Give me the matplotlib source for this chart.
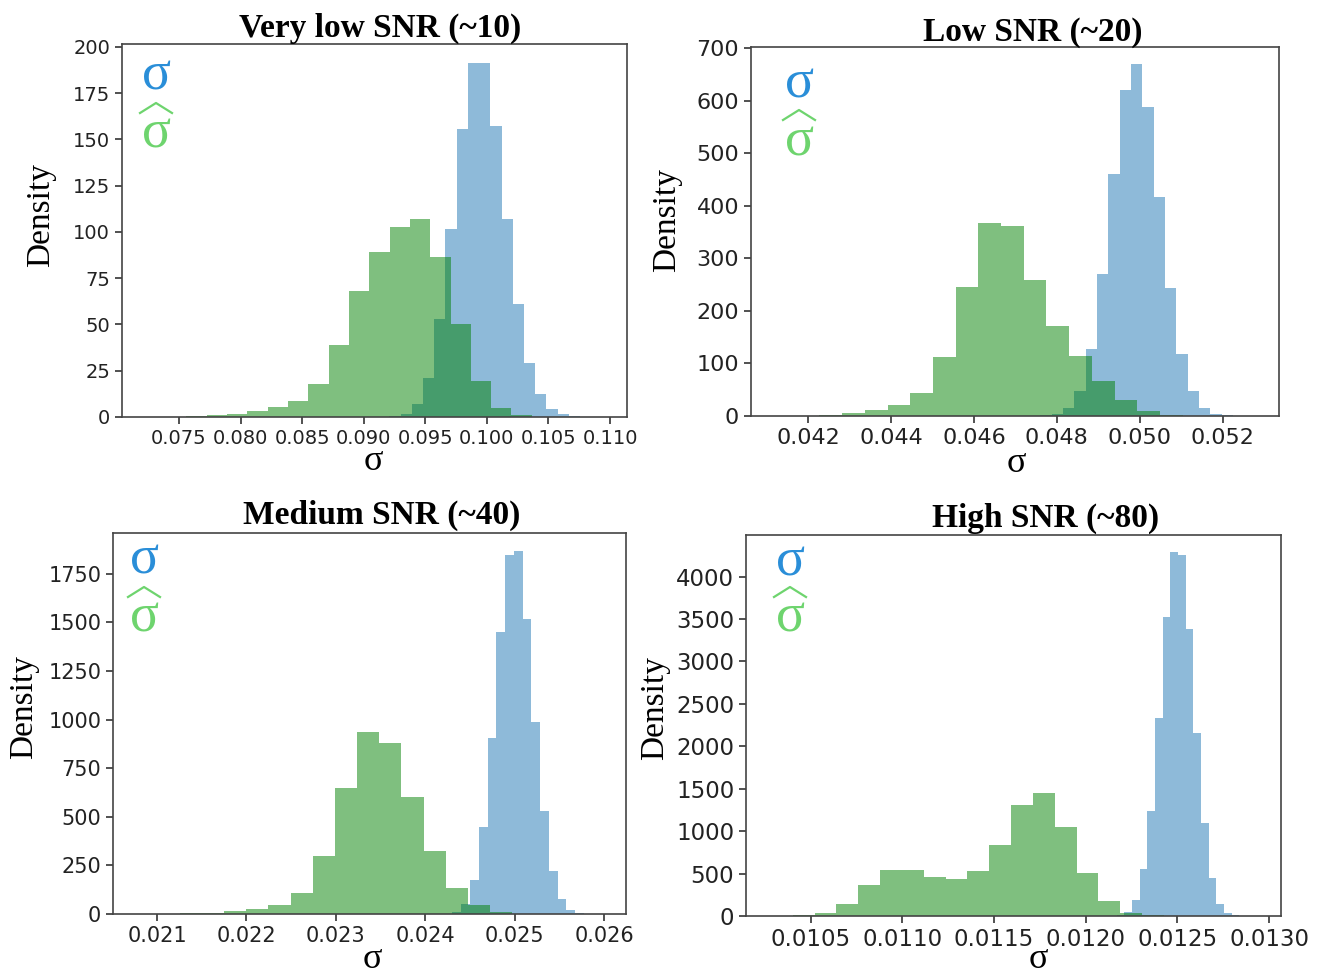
import matplotlib
matplotlib.use('Agg')
import matplotlib.pyplot as plt
from matplotlib.lines import Line2D
from matplotlib.ticker import FormatStrFormatter, MultipleLocator
import numpy as np

W, H = 1323, 977
SERIF = 'Liberation Serif'

titles = ['Very low SNR (~10)', 'Low SNR (~20)', 'Medium SNR (~40)', 'High SNR (~80)']

# true sigma histograms: first bin edge, bin width, densities
sigma_start = [0.09208, 0.047605, 0.024206, 0.012169]
sigma_width = [0.000911, 0.0002732, 0.0000981, 0.0000418]
sigma_vlow = [0.5, 1.8, 7.2, 21.3, 52.7, 101.4, 155.5, 191.5, 191.5, 157, 106.8,
              61, 29.2, 12.6, 4.5, 1.8, 0.5]
sigma_low = [2, 4.5, 15, 47, 127, 270, 461, 621, 669, 588, 416, 243, 118, 48,
             15, 4.5, 2]
sigma_med = [2, 12, 50, 177, 448, 905, 1449, 1848, 1869, 1517, 986, 532, 219,
             79, 22, 5]
sigma_high = [8, 47, 185, 558, 1239, 2336, 3527, 4286, 4255, 3378, 2159, 1101,
              448, 142, 35, 8]

# estimated sigma histograms
hat_start = [0.0756, 0.04227, 0.021254, 0.010402]
hat_width = [0.00165, 0.000548, 0.0002479, 0.0001191]
hat_vlow = [0.5, 0.9, 1.6, 3.2, 5.4, 8.8, 18, 38.8, 68.2, 89.3, 102.8, 106.8,
            86.6, 50, 19.5, 4.9, 1]
hat_low = [2, 5, 12, 21, 44, 113, 245, 367, 362, 259, 171, 114, 67, 30, 9.5, 2]
hat_med = [3, 5, 14, 24, 46, 110, 300, 646, 934, 880, 600, 322, 134, 48, 8, 2]
hat_high = [8, 31, 138, 362, 543, 543, 460, 433, 527, 834, 1313, 1455, 1054,
            507, 177, 35, 8]

sigma_vals = [sigma_vlow, sigma_low, sigma_med, sigma_high]
hat_vals = [hat_vlow, hat_low, hat_med, hat_high]

xlims = [(0.07037, 0.11138), (0.04062, 0.05336), (0.020508, 0.026245), (0.010147, 0.013065)]
ylims = [201.5, 702, 1960, 4491]
xtick_step = [0.005, 0.002, 0.001, 0.0005]
xtick_fmt = ['%.3f', '%.3f', '%.3f', '%.4f']
ytick_step = [25, 100, 250, 500]
tick_size = [14, 16, 15, 16.5]

# panel boxes in pixels: left, top, right, bottom
boxes = [(122, 44, 627, 417), (751, 47, 1279, 416), (113, 533, 626, 914), (746, 535, 1281, 916)]
title_pos = [(380, 37), (1033, 41), (382, 524), (1046, 527)]
ylabel_pos = [(41, 215), (667, 220), (24, 707), (655, 708)]
xlabel_pos = [(373, 470), (1016, 472), (372, 968), (1038, 968)]
legend_pos = [(156, 90, 148), (799, 98, 155), (144, 574, 632), (790, 575, 632)]

SIGMA_BLUE = '#2a8ed8'
SIGMA_GREEN = '#6ed46e'


def fx(px):
    return px / W


def fy(py):
    return 1 - py / H


fig = plt.figure(figsize=(W / 100, H / 100), dpi=100)

for i in range(4):
    l, t, r, b = boxes[i]
    ax = fig.add_axes([fx(l), fy(b), (r - l) / W, (b - t) / H])

    n = len(sigma_vals[i])
    edges = sigma_start[i] + sigma_width[i] * np.arange(n + 1)
    ax.stairs(sigma_vals[i], edges, fill=True, color='tab:blue', alpha=0.5, linewidth=0)
    n = len(hat_vals[i])
    edges = hat_start[i] + hat_width[i] * np.arange(n + 1)
    ax.stairs(hat_vals[i], edges, fill=True, color='green', alpha=0.5, linewidth=0)

    ax.set_xlim(*xlims[i])
    ax.set_ylim(0, ylims[i])
    ax.xaxis.set_major_locator(MultipleLocator(xtick_step[i]))
    ax.xaxis.set_major_formatter(FormatStrFormatter(xtick_fmt[i]))
    ax.yaxis.set_major_locator(MultipleLocator(ytick_step[i]))
    ax.tick_params(labelsize=tick_size[i], colors='#222222', length=5, width=1.1)
    for s in ax.spines.values():
        s.set_color('#444444')
        s.set_linewidth(1.2)

    fig.text(fx(title_pos[i][0]), fy(title_pos[i][1]), titles[i], family=SERIF,
             fontweight='bold', fontsize=24, ha='center', va='baseline')
    fig.text(fx(ylabel_pos[i][0]), fy(ylabel_pos[i][1]), 'Density', family=SERIF,
             fontsize=24, rotation=90, ha='center', va='center')
    fig.text(fx(xlabel_pos[i][0]), fy(xlabel_pos[i][1]), 'σ', family=SERIF,
             fontsize=26, ha='center', va='baseline')

    # coloured sigma / sigma-hat key in the upper left corner
    lx, y1, y2 = legend_pos[i]
    fig.text(fx(lx), fy(y1), 'σ', family=SERIF, fontsize=39, color=SIGMA_BLUE,
             ha='center', va='baseline')
    fig.text(fx(lx), fy(y2), 'σ', family=SERIF, fontsize=39, color=SIGMA_GREEN,
             ha='center', va='baseline')
    hat_x = [fx(lx - 16), fx(lx), fx(lx + 16)]
    hat_y = [fy(y2 - 35), fy(y2 - 45), fy(y2 - 35)]
    fig.add_artist(Line2D(hat_x, hat_y, transform=fig.transFigure,
                          color=SIGMA_GREEN, linewidth=1.6))

fig.savefig('out.png', dpi=100)
